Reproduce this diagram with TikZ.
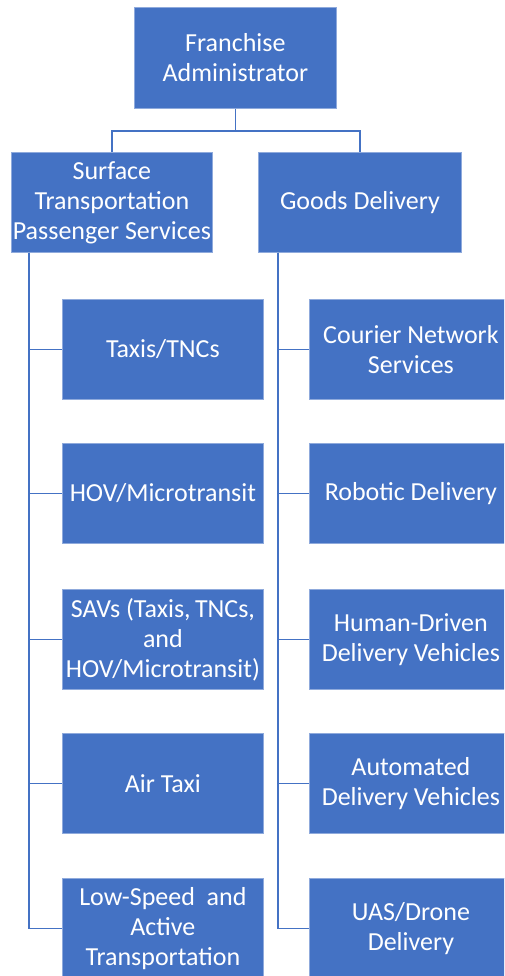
\documentclass[tikz,border=0pt]{standalone}
\usepackage{fontspec}
\setmainfont{Carlito}
\definecolor{boxblue}{HTML}{4472C4}
\definecolor{edgeblue}{HTML}{8FAADC}
\begin{document}
\begin{tikzpicture}[x=1pt,y=-1pt,
  box/.style={draw=edgeblue, line width=0.8pt, fill=boxblue, text=white,
    minimum width=201pt, minimum height=100pt, inner sep=0pt, align=center,
    anchor=north west, font=\fontsize{26}{30}\selectfont},
  rbox/.style={box, minimum width=203pt},
  conn/.style={draw=boxblue, line width=1.6pt}]
\useasboundingbox (0,0) rectangle (504,976);
\clip (0,0) rectangle (504,976);
\node[box, minimum width=202pt, minimum height=101pt] (fa) at (134,7) {Franchise\\Administrator};
\node[box] (stp) at (11,152) {Surface\\Transportation\\Passenger Services};
\node[box, minimum width=203pt] (gd) at (258,152) {Goods Delivery};
% left children
\node[box] (l1) at (62,299) {Taxis/TNCs};
\node[box] (l2) at (62,443) {HOV/Microtransit};
\node[box] (l3) at (62,589) {SAVs\ (Taxis,\,TNCs,\\and\\HOV/Microtransit)};
\node[box] (l4) at (62,733) {Air Taxi};
\node[box] (l5) at (62,878) {Low-Speed\ \ and\\Active\\Transportation};
% right children
\node[rbox] (r1) at (309,299) {Courier Network\\Services};
\node[rbox] (r2) at (309,443) {Robotic Delivery};
\node[rbox] (r3) at (309,589) {Human-Driven\\Delivery Vehicles};
\node[rbox] (r4) at (309,733) {Automated\\Delivery Vehicles};
\node[rbox] (r5) at (309,878) {UAS/Drone\\Delivery};
% connectors
\draw[conn] (fa.south) -- ++(0,22) -| (stp.north);
\draw[conn] (fa.south) ++(0,22) -| (gd.north);
\foreach \c in {l1,l2,l3,l4,l5}{
  \draw[conn] (stp.south west) ++(18,0) |- (\c.west);
}
\foreach \c in {r1,r2,r3,r4,r5}{
  \draw[conn] (gd.south west) ++(20,0) |- (\c.west);
}
\end{tikzpicture}
\end{document}
